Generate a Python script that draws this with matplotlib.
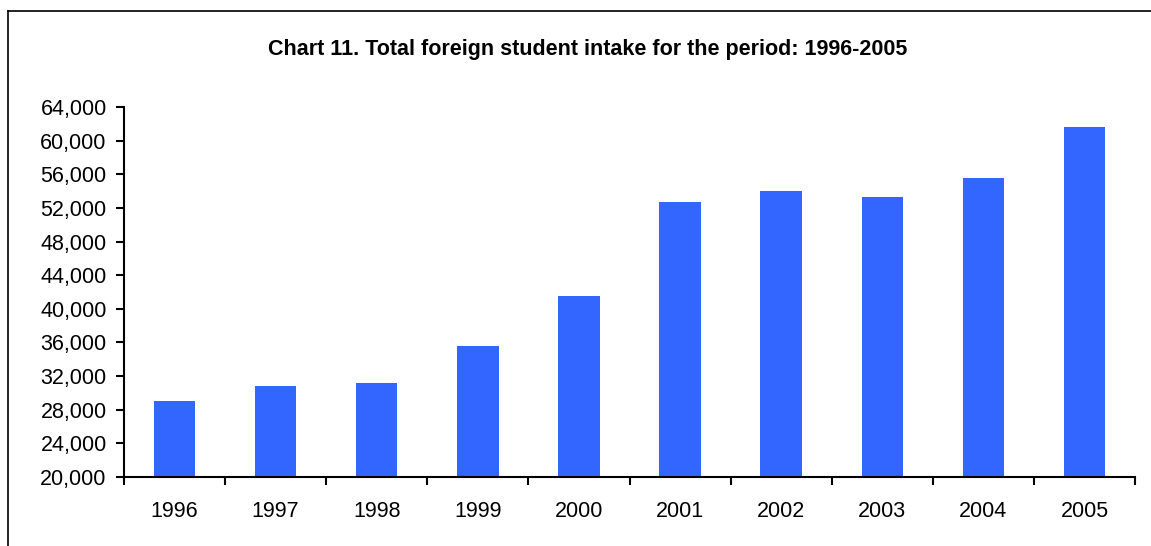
import matplotlib
matplotlib.use("Agg")
import matplotlib.pyplot as plt
from matplotlib.lines import Line2D
from matplotlib.ticker import FuncFormatter

years = ["1996", "1997", "1998", "1999", "2000", "2001", "2002", "2003", "2004", "2005"]
intake = [29000, 30800, 31200, 35600, 41500, 52700, 54000, 53300, 55550, 61600]
yticks = list(range(20000, 64001, 4000))

plt.rcParams["font.family"] = ["Liberation Sans", "DejaVu Sans"]

fig = plt.figure(figsize=(11.51, 5.46), dpi=100)
ax = fig.add_axes([124 / 1151, 1 - 477 / 546, (1135 - 124) / 1151, (477 - 107) / 546])

x = list(range(len(years)))
ax.bar(x, intake, width=0.41, color="#3366ff", zorder=2)

ax.set_xlim(-0.5, len(years) - 0.5)
ax.set_ylim(20000, 64000)
ax.set_yticks(yticks)
ax.yaxis.set_major_formatter(FuncFormatter(lambda v, p: f"{int(v):,}"))

# category ticks sit on the boundaries, labels in the middle
ax.set_xticks([i - 0.5 for i in range(len(years) + 1)])
ax.set_xticklabels([])
ax.set_xticks(x, minor=True)
ax.set_xticklabels(years, minor=True)
ax.tick_params(axis="x", which="minor", length=0, pad=17, labelsize=15.5)
ax.tick_params(axis="x", which="major", length=5.5, width=1.5, direction="out")
ax.tick_params(axis="y", length=5.5, width=1.5, pad=7, labelsize=15.5)

for side in ["top", "right"]:
    ax.spines[side].set_visible(False)
for side in ["left", "bottom"]:
    ax.spines[side].set_linewidth(1.5)

fig.text(588 / 1151, 1 - 49 / 546, "Chart 11. Total foreign student intake for the period: 1996-2005",
         ha="center", va="center", fontsize=15.5, fontweight="bold")

# outer frame (only left and top edges show)
fig.add_artist(Line2D([8 / 1151, 8 / 1151], [0, 1 - 11 / 546], color="black", lw=1.2, transform=fig.transFigure))
fig.add_artist(Line2D([8 / 1151, 1], [1 - 11 / 546, 1 - 11 / 546], color="black", lw=1.2, transform=fig.transFigure))

fig.savefig("out.png", dpi=100)
